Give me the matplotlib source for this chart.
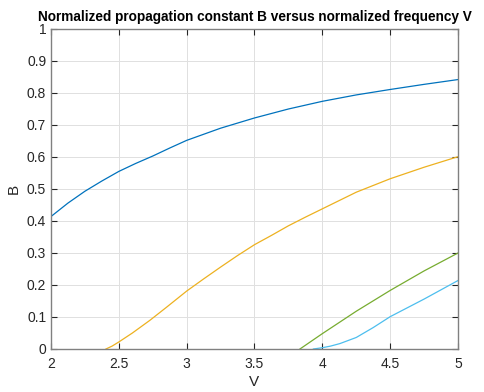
import matplotlib.pyplot as plt

plt.rcParams['font.family'] = ['Liberation Sans', 'DejaVu Sans']

# Data (V, B) for each mode
v_lp01 = [2.0, 2.125, 2.25, 2.375, 2.5, 2.625, 2.75, 2.875, 3.0, 3.25, 3.5, 3.75,
          4.0, 4.25, 4.5, 4.75, 5.0]
b_lp01 = [0.414, 0.456, 0.493, 0.525, 0.555, 0.580, 0.603, 0.628, 0.652, 0.690, 0.722,
          0.750, 0.774, 0.794, 0.811, 0.827, 0.842]

v_lp11 = [2.405, 2.45, 2.5, 2.6, 2.73, 2.85, 3.0, 3.125, 3.25, 3.375, 3.5, 3.625,
          3.75, 3.875, 4.0, 4.25, 4.5, 4.75, 5.0]
b_lp11 = [0.0, 0.009, 0.022, 0.05, 0.09, 0.13, 0.181, 0.219, 0.256, 0.292, 0.326,
          0.355, 0.385, 0.412, 0.438, 0.490, 0.532, 0.568, 0.601]

v_lp21 = [3.835, 4.0, 4.25, 4.5, 4.75, 5.0]
b_lp21 = [0.0, 0.048, 0.118, 0.183, 0.244, 0.300]

v_lp02 = [3.934, 4.0, 4.06, 4.13, 4.25, 4.375, 4.5, 4.75, 5.0]
b_lp02 = [0.0, 0.004, 0.009, 0.017, 0.036, 0.067, 0.101, 0.156, 0.214]

fig = plt.figure(figsize=(4.85, 3.92), dpi=100)
ax = fig.add_axes([51 / 485, 1 - 349 / 392, 407 / 485, 320 / 392])

ax.plot(v_lp01, b_lp01, color='#0072BD', lw=0.9)
ax.plot(v_lp11, b_lp11, color='#EDB120', lw=0.9)
ax.plot(v_lp21, b_lp21, color='#77AC30', lw=0.9)
ax.plot(v_lp02, b_lp02, color='#4DBEEE', lw=0.9)

ax.set_xlim(2, 5)
ax.set_ylim(0, 1)
ax.set_xticks([2, 2.5, 3, 3.5, 4, 4.5, 5])
ax.set_xticklabels(['2', '2.5', '3', '3.5', '4', '4.5', '5'])
ax.set_yticks([i / 10 for i in range(11)])
ax.set_yticklabels(['0', '0.1', '0.2', '0.3', '0.4', '0.5', '0.6', '0.7', '0.8', '0.9', '1'])

ax.grid(True, color='#e0e0e0', lw=0.7)
ax.set_axisbelow(True)
for s in ax.spines.values():
    s.set_color('#808080')
    s.set_linewidth(1.0)
ax.tick_params(direction='in', length=4, width=0.8, color='#262626',
               labelcolor='#262626', labelsize=10, top=True, right=True)
ax.tick_params(axis='x', pad=6)

ax.set_xlabel('V', fontsize=11, color='#262626', labelpad=3)
ax.set_ylabel('B', fontsize=11, color='#262626', labelpad=4)
ax.set_title('Normalized propagation constant B versus normalized frequency V',
             fontsize=9.8, fontweight='bold', color='black', pad=6)

fig.savefig('out.png', dpi=100)
